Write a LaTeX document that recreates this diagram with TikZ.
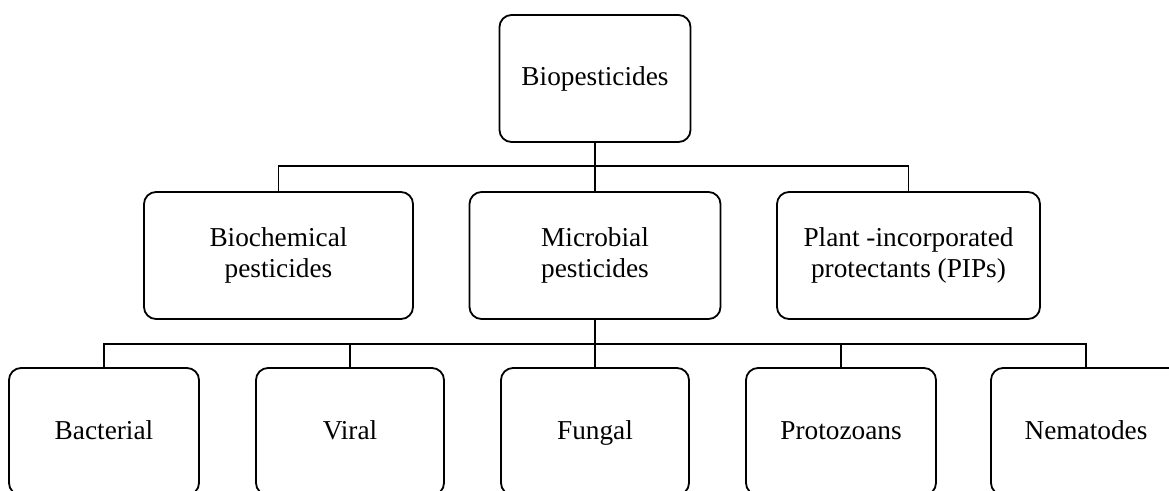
\documentclass[tikz,border=0pt]{standalone}
\usepackage{fontspec}
\setmainfont{Liberation Serif}
\usepackage{tikz}
\usetikzlibrary{positioning,calc}

\begin{document}
\begin{tikzpicture}[x=1pt,y=-1pt,
    box/.style={draw, line width=1.8pt, rounded corners=12pt, minimum height=127pt,
      inner sep=0pt, align=center, font=\fontsize{27.3}{31}\selectfont},
    leaf/.style={box, minimum width=190pt, text height=21pt, text depth=5pt},
    link/.style={draw, line width=1.6pt}]
  \useasboundingbox (0,0) rectangle (1169,490);
  \clip (0,0) rectangle (1169,490);
  % top
  \node[box, minimum width=191pt] (root) at (595,78.5) {Biopesticides};
  % middle row
  \node[box, minimum width=269pt] (biochem) at (278.5,255.5) {Biochemical\\pesticides};
  \node[box, minimum width=251pt] (microbial) at (595,255.5) {Microbial\\pesticides};
  \node[box, minimum width=263pt] (plant) at (908.5,255.5) {Plant -incorporated\\protectants (PIPs)};
  % bottom row
  \node[leaf] (bacterial) at (104,431.5) {Bacterial};
  \node[leaf, minimum width=188pt] (viral) at (350,431.5) {Viral};
  \node[leaf, minimum width=188pt] (fungal) at (595,431.5) {Fungal};
  \node[leaf] (protozoans) at (841,431.5) {Protozoans};
  \node[leaf] (nematodes) at (1086,431.5) {Nematodes};
  % connectors
  \coordinate (busA) at (595,166);
  \coordinate (busB) at (595,344);
  \draw[link] (root.south) -- (busA);
  \foreach \n in {biochem,microbial,plant}
    \draw[link] (busA) -| (\n.north);
  \draw[link] (microbial.south) -- (busB);
  \foreach \n in {bacterial,viral,fungal,protozoans,nematodes}
    \draw[link] (busB) -| (\n.north);
\end{tikzpicture}
\end{document}
